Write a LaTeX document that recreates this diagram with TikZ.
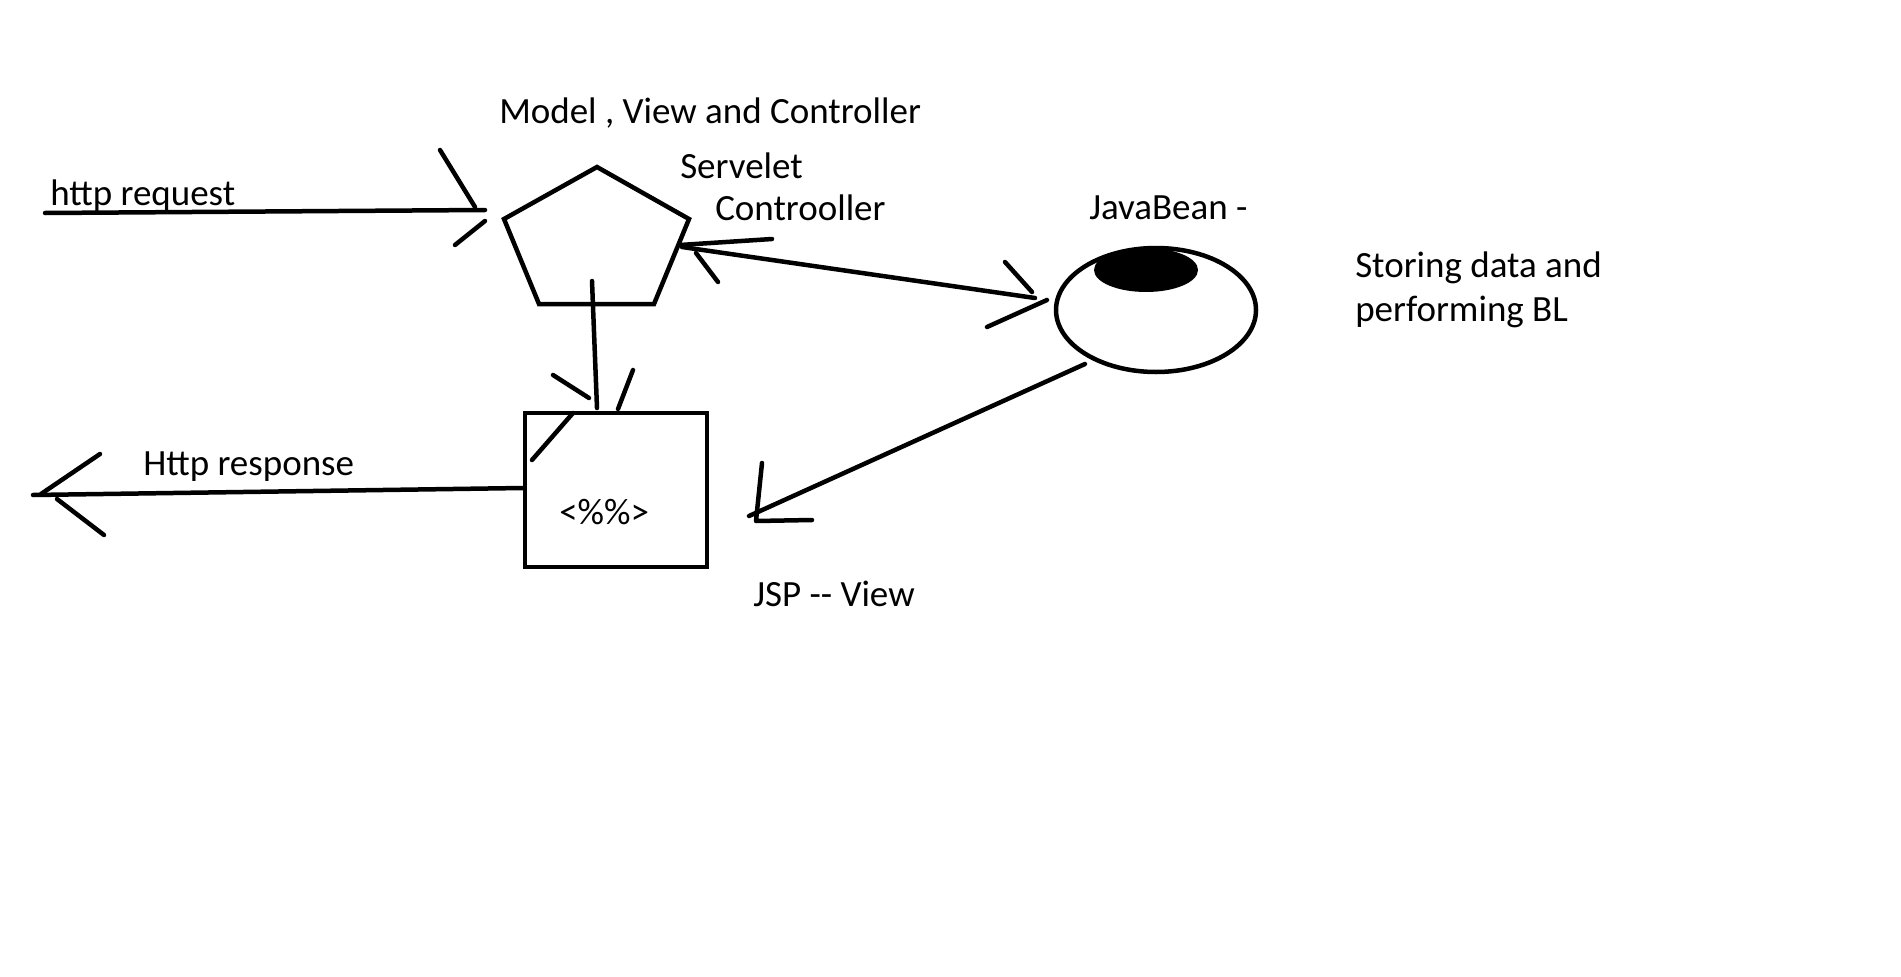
\documentclass[tikz,border=0pt]{standalone}
\usepackage{fontspec}
\setmainfont{Carlito}
\usetikzlibrary{shapes.geometric}
\begin{document}
\begin{tikzpicture}[x=1pt,y=-1pt, line width=4.5pt,
  lbl/.style={anchor=base west, inner sep=0pt, font=\fontsize{37}{44}\selectfont},
  stroke/.style={line width=4.5pt, line cap=round, line join=round},
  outl/.style={draw, line width=4.5pt, line join=miter}]
\useasboundingbox (0,0) rectangle (1901,977);
\fill[white] (0,0) rectangle (1901,977);

% labels
\node[lbl] (title) at (497,123) {Model , View and Controller};
\node[lbl] (serv) at (678,178) {Servelet};
\node[lbl] (ctrl) at (713,220) {Controoller};
\node[lbl] (req) at (48,205) {http request};
\node[lbl] (beanlbl) at (1087,219) {JavaBean -};
\node[lbl] (store1) at (1353,277) {Storing data and};
\node[lbl] (store2) at (1353,321) {performing BL};
\node[lbl] (resp) at (141,475) {Http response};
\node[lbl] (code) at (557,524) {<\%\%>};
\node[lbl] (jspl) at (751,606) {JSP -\kern0pt- View};

% servlet controller (pentagon)
\coordinate (p1) at (597,167);
\coordinate (p2) at (689,219);
\coordinate (p3) at (654,304);
\coordinate (p4) at (539,304);
\coordinate (p5) at (504,219);
\draw[outl] (p1) -- (p2) -- (p3) -- (p4) -- (p5) -- cycle;

% JSP box
\node[outl, rectangle, minimum width=182pt, minimum height=154pt, inner sep=0pt] (jsp) at (616,490) {};

% JavaBean
\node[outl, ellipse, minimum width=200pt, minimum height=124pt, inner sep=0pt] (bean) at (1156,310) {};
\fill (1146,270) ellipse [x radius=52, y radius=22];

% http request
\coordinate (rq0) at (45,213);
\coordinate (rq1) at (485,210);
\draw[stroke] (rq0) -- (rq1);
\draw[stroke] (440,150) -- (475,207);
\draw[stroke] (485,221) -- (455,245);

% controller <-> bean
\coordinate (cb0) at (682,247);
\coordinate (cb1) at (1035,298);
\draw[stroke] (cb0) -- (cb1);
\draw[stroke] (680,245) -- (772,239);
\draw[stroke] (696,253) -- (718,282);
\draw[stroke] (1005,262) -- (1032,292);
\draw[stroke] (1047,300) -- (987,327);

% controller -> JSP
\coordinate (cj0) at (592,281);
\coordinate (cj1) at (597,408);
\draw[stroke] (cj0) -- (cj1);
\draw[stroke] (553,375) -- (589,398);
\draw[stroke] (633,370) -- (618,409);
\draw[stroke] (573,413) -- (532,460);

% http response
\coordinate (rs0) at (jsp.west |- 0,488);
\coordinate (rs1) at (33,495);
\draw[stroke] (rs0) -- (rs1);
\draw[stroke] (100,454) -- (41,494);
\draw[stroke] (57,499) -- (104,535);

% bean -> JSP
\coordinate (bj0) at (1085,364);
\coordinate (bj1) at (749,516);
\draw[stroke] (bj0) -- (bj1);
\draw[stroke] (762,463) -- (756,521) -- (812,520);
\end{tikzpicture}
\end{document}
